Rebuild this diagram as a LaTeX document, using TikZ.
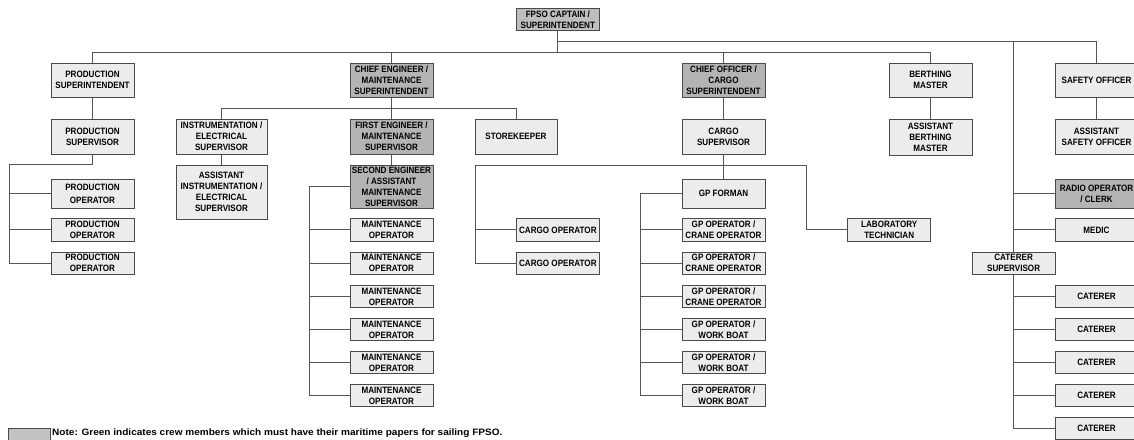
\documentclass[tikz,border=0pt]{standalone}
\usepackage{fontspec}
\setmainfont{Liberation Sans}[FakeStretch=0.88]
\newfontfamily\notefont{Liberation Sans}[FakeStretch=1.08]
\usetikzlibrary{backgrounds}
\definecolor{ltfill}{HTML}{ECECEC}
\definecolor{dkfill}{HTML}{B4B4B4}
\definecolor{cpfill}{HTML}{BEBEBE}
\definecolor{lgfill}{HTML}{C2C2C2}
\definecolor{bdcol}{HTML}{4A4A4A}
\definecolor{lncol}{HTML}{555555}
\tikzset{
  boxbase/.style={draw=bdcol, line width=0.9pt, inner sep=0pt, outer sep=0pt, align=center,
    text=black, font=\bfseries\fontsize{9.2}{11}\selectfont},
  lt/.style={boxbase, fill=ltfill},
  dk/.style={boxbase, fill=dkfill},
  cp/.style={boxbase, fill=cpfill},
  ln/.style={draw=lncol, line width=0.9pt},
}
\newcommand\bx[7]{\node[#7, minimum width={#4-#2}, minimum height={#5-#3}] (#1) at ({(#2+#4)/2},{(#3+#5)/2}) {#6};}
\begin{document}
\begin{tikzpicture}[x=1pt,y=-1pt]
\useasboundingbox (0,0) rectangle (1134,439);
% top
\bx{cap}{516.7}{8.3}{599}{30.7}{FPSO CAPTAIN /\\SUPERINTENDENT}{cp}
\bx{ps}{51}{63}{134}{97}{PRODUCTION\\SUPERINTENDENT}{lt}
\bx{ce}{350}{63}{433}{97}{CHIEF ENGINEER /\\MAINTENANCE\\SUPERINTENDENT}{dk}
\bx{co}{682}{63}{765}{97}{CHIEF OFFICER /\\CARGO\\SUPERINTENDENT}{dk}
\bx{bm}{889}{63}{972}{97}{BERTHING\\MASTER}{lt}
\bx{so}{1055}{63}{1138}{97}{SAFETY OFFICER}{lt}
% third row
\bx{psv}{51}{119}{134}{154}{PRODUCTION\\SUPERVISOR}{lt}
\bx{ies}{176}{119}{267}{154}{INSTRUMENTATION /\\ELECTRICAL\\SUPERVISOR}{lt}
\bx{fe}{350}{119}{433}{154}{FIRST ENGINEER /\\MAINTENANCE\\SUPERVISOR}{dk}
\bx{sk}{475}{119}{557}{154}{STOREKEEPER}{lt}
\bx{cs}{682}{119}{765}{154}{CARGO\\SUPERVISOR}{lt}
\bx{abm}{889}{119}{972}{155}{ASSISTANT\\BERTHING\\MASTER}{lt}
\bx{aso}{1055}{119}{1138}{154}{ASSISTANT\\SAFETY OFFICER}{lt}
% fourth
\bx{aies}{176}{165}{267}{219}{ASSISTANT\\INSTRUMENTATION /\\ELECTRICAL\\SUPERVISOR}{lt}
\bx{se}{350}{165}{433}{208.3}{SECOND ENGINEER\\/ ASSISTANT\\MAINTENANCE\\SUPERVISOR}{dk}
% row A
\bx{po1}{51}{179.3}{134}{208.3}{PRODUCTION\\[2pt]OPERATOR}{lt}
\bx{gpf}{682}{179.3}{765}{208.3}{GP FORMAN}{lt}
\bx{ro}{1055}{179.3}{1138}{208.3}{RADIO OPERATOR\\/ CLERK}{dk}
% row B
\bx{po2}{51}{218.7}{134}{241}{PRODUCTION\\OPERATOR}{lt}
\bx{mo1}{350}{218.7}{433}{241}{MAINTENANCE\\OPERATOR}{lt}
\bx{cg1}{516.7}{218.7}{599}{241}{CARGO OPERATOR}{lt}
\bx{gp1}{682}{218.7}{765}{241}{GP OPERATOR /\\CRANE OPERATOR}{lt}
\bx{lab}{847.7}{218.7}{930.7}{241}{LABORATORY\\TECHNICIAN}{lt}
\bx{med}{1055}{218.7}{1138}{241}{MEDIC}{lt}
% row C
\bx{po3}{51}{252}{134}{274.3}{PRODUCTION\\OPERATOR}{lt}
\bx{mo2}{350}{252}{433}{274.3}{MAINTENANCE\\OPERATOR}{lt}
\bx{cg2}{516.7}{252}{599}{274.3}{CARGO OPERATOR}{lt}
\bx{gp2}{682}{252}{765}{274.3}{GP OPERATOR /\\CRANE OPERATOR}{lt}
\bx{csup}{972.3}{252}{1055}{274.3}{CATERER\\SUPERVISOR}{lt}
% row D
\bx{mo3}{350}{285.3}{433}{307.6}{MAINTENANCE\\OPERATOR}{lt}
\bx{gp3}{682}{285.3}{765}{307.6}{GP OPERATOR /\\CRANE OPERATOR}{lt}
\bx{ct1}{1055}{285.3}{1138}{307.6}{CATERER}{lt}
% row E
\bx{mo4}{350}{318.3}{433}{340.6}{MAINTENANCE\\OPERATOR}{lt}
\bx{gp4}{682}{318.3}{765}{340.6}{GP OPERATOR /\\WORK BOAT}{lt}
\bx{ct2}{1055}{318.3}{1138}{340.6}{CATERER}{lt}
% row F
\bx{mo5}{350}{351.3}{433}{373.6}{MAINTENANCE\\OPERATOR}{lt}
\bx{gp5}{682}{351.3}{765}{373.6}{GP OPERATOR /\\WORK BOAT}{lt}
\bx{ct3}{1055}{351.3}{1138}{373.6}{CATERER}{lt}
% row G
\bx{mo6}{350}{384.6}{433}{406.9}{MAINTENANCE\\OPERATOR}{lt}
\bx{gp6}{682}{384.6}{765}{406.9}{GP OPERATOR /\\WORK BOAT}{lt}
\bx{ct4}{1055}{384.6}{1138}{406.9}{CATERER}{lt}
% row H
\bx{ct5}{1055}{417.6}{1138}{439.9}{CATERER}{lt}
% legend
\node[draw=bdcol, fill=lgfill, line width=0.9pt, minimum width=42.4pt, minimum height=12pt, inner sep=0pt] (lg) at (29.5,434.3) {};
\node[anchor=west, inner sep=0pt, font=\notefont\bfseries\fontsize{9.3}{11}\selectfont] (note) at (52,432.8) {Note: Green indicates crew members which must have their maritime papers for sailing FPSO.};
% coordinates
\coordinate (yA) at (0,52.3);
\coordinate (yB) at (0,41.7);
\coordinate (yI) at (0,108);
\coordinate (yC) at (0,165);
\coordinate (pl) at (9.3,164.7);
\coordinate (sx) at (309,0);
\coordinate (cx) at (475,0);
\coordinate (gx) at (640.5,0);
\coordinate (lx) at (806.7,0);
\coordinate (kx) at (1013.5,0);
\begin{scope}[on background layer]
\draw[ln] (cap.south) -- (cap.south |- yA);
\draw[ln] (ps.north) |- (bm.north |- yA) -- (bm.north);
\draw[ln] (ce.north) -- (ce.north |- yA);
\draw[ln] (co.north) -- (co.north |- yA);
\draw[ln] (cap.south |- yB) -| (so.north);
\draw[ln] (kx |- yB) |- (ct5.west);
\foreach \n in {ro,med,ct1,ct2,ct3,ct4} \draw[ln] (kx |- \n.west) -- (\n.west);
\draw[ln] (bm) -- (abm);
\draw[ln] (so) -- (aso);
\draw[ln] (ps) -- (psv);
\draw[ln] (psv.south) |- (pl) |- (po3.west);
\foreach \n in {po1,po2} \draw[ln] (pl |- \n.west) -- (\n.west);
\draw[ln] (ce) -- (fe);
\draw[ln] (ies.north) |- (sk.north |- yI) -- (sk.north);
\draw[ln] (ies) -- (aies);
\draw[ln] (fe) -- (se);
\draw[ln] (se.west) -| (sx |- mo6.west) -- (mo6.west);
\foreach \n in {mo1,mo2,mo3,mo4,mo5} \draw[ln] (sx |- \n.west) -- (\n.west);
\draw[ln] (co) -- (cs);
\draw[ln] (cs) -- (gpf);
\draw[ln] (cg2.west) -| (cx |- yC) -| (lx |- lab.west) -- (lab.west);
\draw[ln] (cx |- cg1.west) -- (cg1.west);
\draw[ln] (gpf.west) -| (gx |- gp6.west) -- (gp6.west);
\foreach \n in {gp1,gp2,gp3,gp4,gp5} \draw[ln] (gx |- \n.west) -- (\n.west);
\end{scope}
\end{tikzpicture}
\end{document}
